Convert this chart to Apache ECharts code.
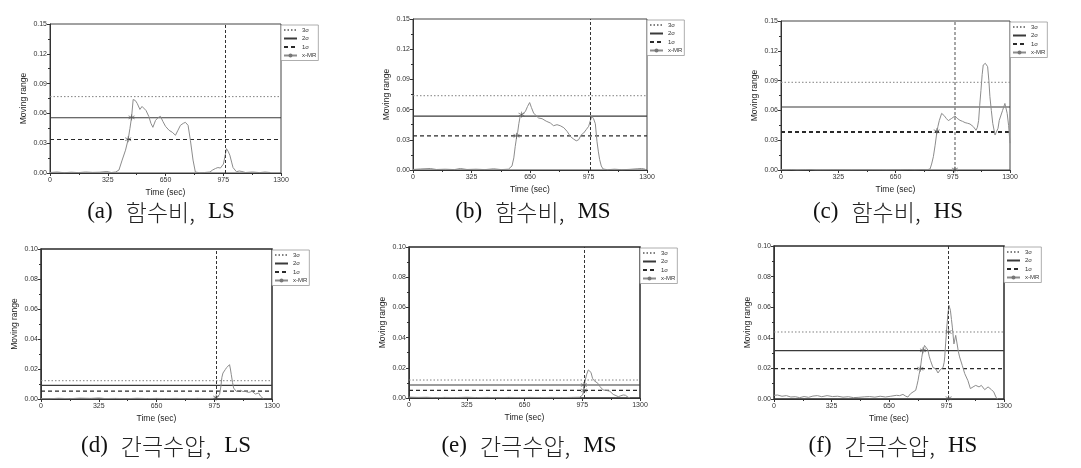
<!DOCTYPE html>
<html><head><meta charset="utf-8">
<script src="https://cdn.jsdelivr.net/npm/echarts@6/dist/echarts.min.js"></script>
<style>html,body{margin:0;padding:0;background:#fff}#c{width:1081px;height:468px}</style>
</head><body><div id="c"></div>
<script>
// ---------------- DATA ----------------
const xTicks = [0, 325, 650, 975, 1300];
const seriesNames = ['3σ', '2σ', '1σ', 'x-MR'];
const captionIds = ['(a)', '(b)', '(c)', '(d)', '(e)', '(f)'];
const captionVars = ['함수비,', '함수비,', '함수비,', '간극수압,', '간극수압,', '간극수압,'];
const captionCases = ['LS', 'MS', 'HS', 'LS', 'MS', 'HS'];
const yMaxes = [0.15, 0.15, 0.15, 0.10, 0.10, 0.10];
const ySteps = [0.03, 0.03, 0.03, 0.02, 0.02, 0.02];
const sigma3 = [0.0769, 0.0738, 0.0883, 0.0122, 0.0119, 0.0438];
const sigma2 = [0.0556, 0.0536, 0.0634, 0.0091, 0.0086, 0.0316];
const sigma1 = [0.0337, 0.0338, 0.0383, 0.0053, 0.0051, 0.0198];
const eventTime = [987, 987, 987, 987, 987, 987];

const aTime = [0,40,80,120,160,200,240,280,320,345,370,388,406,425,440,450,459,468,480,491,506,518,528,540,556,568,579,594,610,622,635,650,670,688,706,720,734,750,762,777,790,805,818,840,870,900,915,931,945,959,976,985,993,1002,1012,1022,1030,1049,1065,1080,1100,1140,1180,1210,1240];
const aMR = [0.0005,0.001,0.0003,0.0008,0.0004,0.001,0.0006,0.0008,0.0015,0.0005,0.001,0.003,0.013,0.023,0.034,0.045,0.056,0.074,0.073,0.070,0.064,0.067,0.069,0.063,0.057,0.050,0.046,0.053,0.056,0.057,0.052,0.047,0.043,0.041,0.038,0.043,0.048,0.050,0.051,0.048,0.033,0.013,0.001,0.0003,0.0005,0.001,0.003,0.0045,0.0055,0.005,0.009,0.017,0.0245,0.022,0.018,0.011,0.0055,0.0013,0.002,0.0015,0.0005,0.001,0.0004,0.001,0.0005];

const bTime = [0,40,96,130,180,230,263,300,350,400,448,490,530,550,560,568,575,581,588,596,610,624,636,648,658,670,684,698,717,740,763,781,800,818,838,856,874,890,907,920,935,948,962,976,985,994,1003,1013,1022,1030,1037,1046,1056,1080,1120,1160,1200,1245,1270,1290];
const bMR = [0.0005,0.001,0.0015,0.0005,0.0008,0.0004,0.0015,0.0005,0.0008,0.0004,0.0012,0.0004,0.0008,0.004,0.012,0.0235,0.032,0.037,0.046,0.054,0.056,0.058,0.063,0.067,0.062,0.0566,0.054,0.0516,0.051,0.0485,0.0467,0.044,0.045,0.044,0.042,0.0384,0.0334,0.031,0.029,0.030,0.035,0.0367,0.040,0.0434,0.049,0.0533,0.051,0.046,0.0285,0.018,0.0103,0.004,0.001,0.0003,0.0008,0.0003,0.0006,0.0012,0.0015,0.0008];

const cTime = [0,30,60,90,140,170,200,300,400,500,600,680,720,760,800,830,846,855,865,875,884,891,899,912,925,938,950,969,988,1000,1016,1030,1045,1060,1073,1092,1107,1115,1122,1128,1135,1142,1148,1160,1167,1173,1180,1186,1194,1202,1215,1224,1232,1239,1258,1271,1284,1292,1300];
const cMR = [0.0005,0.0003,0.0005,0.0001,0.0004,0.0005,0.0001,0.0002,0.0001,0.0002,0.0001,0.0003,0.0005,0.0003,0.0005,0.0003,0.001,0.006,0.0134,0.025,0.037,0.044,0.050,0.057,0.055,0.052,0.0497,0.052,0.0544,0.052,0.050,0.049,0.0477,0.047,0.0463,0.0436,0.040,0.043,0.050,0.065,0.080,0.096,0.1057,0.1074,0.106,0.104,0.090,0.0738,0.060,0.047,0.0352,0.035,0.042,0.050,0.060,0.067,0.057,0.045,0.027];

const dTime = [0,50,100,160,220,280,325,360,420,480,540,600,650,700,760,820,880,940,971,986,995,1005,1012,1018,1024,1037,1045,1052,1061,1066,1071,1078,1084,1099,1110,1122,1136,1150,1160,1169,1178,1188,1197,1206,1215,1225,1235,1244,1253];
const dMR = [0.0003,0.0002,0.0005,0.0002,0.0006,0.0004,0.0007,0.0003,0.0004,0.0002,0.0005,0.0003,0.0004,0.0003,0.0004,0.0002,0.0004,0.0003,0.0004,0.001,0.0008,0.003,0.008,0.0145,0.0173,0.0196,0.021,0.0222,0.0229,0.020,0.0162,0.011,0.0073,0.0051,0.0055,0.0058,0.005,0.0051,0.0047,0.0044,0.0049,0.0051,0.004,0.0033,0.0038,0.004,0.002,0.0007,0];

const eTime = [0,50,100,150,200,260,325,380,440,500,560,620,680,740,800,860,920,960,971,977,984,990,999,1009,1016,1024,1033,1042,1052,1065,1075,1084,1093,1103,1112,1122,1130,1140,1149,1159,1178,1192,1206,1218,1225,1234,1244];
const eMR = [0.0006,0.0004,0.0005,0.0002,0.0004,0.0003,0.0005,0.0003,0.0004,0.0002,0.0004,0.0003,0.0004,0.0003,0.0004,0.0003,0.0004,0.0005,0.001,0.002,0.0053,0.0108,0.0153,0.0186,0.019,0.017,0.013,0.0115,0.0108,0.0095,0.0075,0.0064,0.0053,0.0049,0.005,0.0053,0.0045,0.0042,0.0024,0.0015,0.0009,0.0015,0.002,0.0018,0.0015,0.0004,0.0002];

const fTime = [0,20,45,70,95,120,145,170,195,220,245,270,300,330,360,390,420,450,480,510,540,570,600,630,660,692,710,729,745,757,772,786,801,808,814,820,827,835,842,851,861,870,877,884,899,914,927,940,955,962,965,974,983,989,997,1003,1008,1017,1027,1035,1042,1049,1064,1078,1096,1110,1125,1140,1150,1159,1172,1191,1200,1210,1229,1242,1256,1265];
const fMR = [0.0024,0.0026,0.0018,0.0022,0.0013,0.0015,0.0009,0.0016,0.0011,0.0019,0.0022,0.0015,0.0022,0.0016,0.0018,0.0012,0.0015,0.0009,0.0011,0.0014,0.0016,0.0012,0.0018,0.0013,0.0018,0.0024,0.0022,0.003,0.0018,0.0013,0.0035,0.0046,0.0057,0.009,0.012,0.016,0.0198,0.027,0.0318,0.035,0.0357,0.032,0.028,0.0253,0.0205,0.0198,0.017,0.0192,0.0205,0.024,0.0275,0.0427,0.0558,0.0612,0.058,0.052,0.047,0.036,0.0416,0.036,0.031,0.0275,0.022,0.0166,0.012,0.0068,0.0079,0.0089,0.0085,0.0079,0.0089,0.0061,0.007,0.0079,0.0061,0.0046,0.0009,0];

// crossing markers (asterisks) on the x-MR curve
const markTimes = [[440,459],[575,603],[884,987],[986],[984,984],[827,842,987,987]];
const markValues = [[0.034,0.056],[0.034,0.055],[0.039,0.0005],[0.001],[0.005,0.0086],[0.0198,0.0318,0.0438,0.0005]];

const mrTimes = [aTime,bTime,cTime,dTime,eTime,fTime];
const mrValues = [aMR,bMR,cMR,dMR,eMR,fMR];

// ---------------- LAYOUT ----------------
const grids = [
  {left:50, top:24, width:231, height:149},
  {left:413, top:19, width:234, height:151},
  {left:781, top:21, width:229, height:149},
  {left:41, top:249, width:231, height:150},
  {left:409, top:247, width:231, height:151},
  {left:774, top:246, width:230, height:153}
];
const captionPos = [[161,212],[533,212],[888,212],[166,446],[529,446],[893,446]];
const FONT = "'Liberation Sans', Arial, sans-serif";

const option = {
  animation:false,
  backgroundColor:'#fff',
  grid:[], xAxis:[], yAxis:[], series:[], legend:[], graphic:[]
};

const asterisk = 'path://M0,-5L0,5M-4.3,-2.5L4.3,2.5M-4.3,2.5L4.3,-2.5';
const lineColors = {'3σ':'#808080','2σ':'#3a3a3a','1σ':'#2a2a2a','x-MR':'#8c8c8c'};

for (let i=0;i<6;i++){
  const g = grids[i];
  const bottomRow = i>=3;
  option.grid.push({left:g.left, top:g.top, width:g.width, height:g.height, show:true,
    borderColor: bottomRow ? '#2a2a2a' : '#444', borderWidth: bottomRow ? 1.5 : 1, backgroundColor:'#fff'});
  option.xAxis.push({type:'value', gridIndex:i, min:xTicks[0], max:xTicks[xTicks.length-1], interval:xTicks[1]-xTicks[0],
    axisLine:{show:true, onZero:false, lineStyle:{color:'#333', width:1}},
    axisTick:{show:true, length:3, lineStyle:{color:'#333'}},
    minorTick:{show:true, splitNumber:2, length:2, lineStyle:{color:'#333'}},
    splitLine:{show:false},
    axisLabel:{fontSize:7, color:'#333', fontFamily:FONT, margin:4, formatter:v=>String(v)},
    name:'Time (sec)', nameLocation:'middle', nameGap:15,
    nameTextStyle:{fontSize:8.5, color:'#222', fontFamily:FONT}});
  option.yAxis.push({type:'value', gridIndex:i, min:0, max:yMaxes[i], interval:ySteps[i],
    axisLine:{show:true, lineStyle:{color:'#333', width:1}},
    axisTick:{show:true, length:3, lineStyle:{color:'#333'}},
    minorTick:{show:true, splitNumber:2, length:2, lineStyle:{color:'#333'}},
    splitLine:{show:false},
    axisLabel:{fontSize:7, color:'#333', fontFamily:FONT, margin:3, formatter:v=>v.toFixed(2)},
    name:'Moving range', nameLocation:'middle', nameGap:22, nameRotate:90,
    nameTextStyle:{fontSize:8.5, color:'#222', fontFamily:FONT}});

  const xMax = xTicks[xTicks.length-1];
  option.series.push({name:'3σ', type:'line', xAxisIndex:i, yAxisIndex:i, silent:true, symbol:'none',
    data:[[xTicks[0],sigma3[i]],[xMax,sigma3[i]]], itemStyle:{color:lineColors['3σ']},
    lineStyle:{type:[1.5,2], color:lineColors['3σ'], width:1}, z:3});
  option.series.push({name:'2σ', type:'line', xAxisIndex:i, yAxisIndex:i, silent:true, symbol:'none',
    data:[[xTicks[0],sigma2[i]],[xMax,sigma2[i]]], itemStyle:{color:lineColors['2σ']},
    lineStyle:{type:'solid', color:lineColors['2σ'], width:1.2}, z:3});
  option.series.push({name:'1σ', type:'line', xAxisIndex:i, yAxisIndex:i, silent:true, symbol:'none',
    data:[[xTicks[0],sigma1[i]],[xMax,sigma1[i]]], itemStyle:{color:lineColors['1σ']},
    lineStyle:{type:[4,3], color:lineColors['1σ'], width: i===2 ? 2 : 1.2}, z:3});
  option.series.push({name:'x-MR', type:'line', xAxisIndex:i, yAxisIndex:i, silent:true,
    symbol:'circle', symbolSize:2, showSymbol:false,
    data: mrTimes[i].map((t,k)=>[t, mrValues[i][k]]),
    lineStyle:{color:lineColors['x-MR'], width:1}, itemStyle:{color:lineColors['x-MR']}, z:4,
    markLine:{silent:true, symbol:'none', label:{show:false},
      lineStyle:{type:[3,2], color: (i===2 ? '#8a8a8a' : '#333'), width: (i===2 ? 1.5 : 1)},
      data:[{xAxis:eventTime[i]}]}});
  option.series.push({name:'marks', type:'scatter', xAxisIndex:i, yAxisIndex:i, silent:true,
    symbol:asterisk, symbolSize:6,
    data: markTimes[i].map((t,k)=>[t, markValues[i][k]]),
    itemStyle:{color:'none', borderColor:'#555', borderWidth:0.8}, z:5});

  option.legend.push({
    data: seriesNames.map(n => n === 'x-MR'
      ? {name:n, itemStyle:{color:'#777', borderWidth:0}}
      : {name:n, itemStyle:{opacity:0, borderWidth:0}}),
    orient:'vertical', left:g.left+g.width, top:g.top+1,
    itemWidth:13, itemHeight:5, itemGap:2.5, selectedMode:false,
    textStyle:{fontSize:6, color:'#333', fontFamily:FONT},
    borderColor:'#999', borderWidth:0.8, padding:[2,2,2,2], backgroundColor:'#fff'});

  option.graphic.push({type:'text', x:captionPos[i][0], y:captionPos[i][1],
    style:{text:'{lat|'+captionIds[i]+'}{gap|}{kor|'+captionVars[i]+'}{gap2|}{lat|'+captionCases[i]+'}',
      align:'center', verticalAlign:'middle',
      rich:{
        lat:{fontFamily:"'Liberation Serif', 'DejaVu Serif', serif", fontSize:23, fill:'#111'},
        kor:{fontFamily:"'Noto Sans CJK KR', sans-serif", fontSize:23, fontWeight:300, fill:'#222'},
        gap:{width:13}, gap2:{width:13}
      }}});
}

const chart = echarts.init(document.getElementById('c'), null, {renderer:'canvas'});
chart.setOption(option);
</script></body></html>
